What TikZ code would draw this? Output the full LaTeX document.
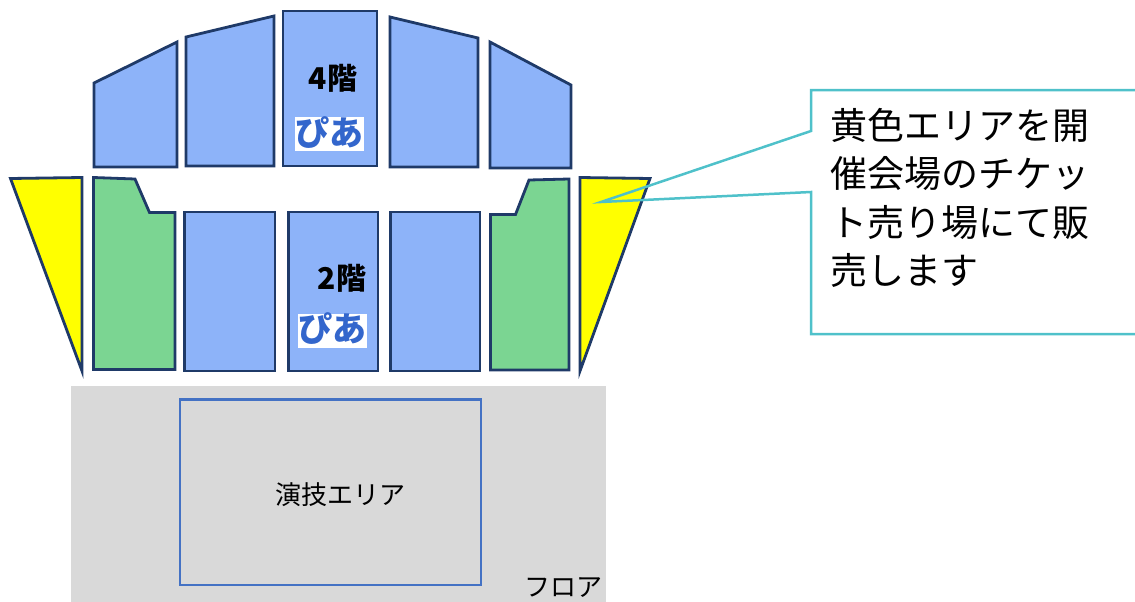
\documentclass[tikz,border=0pt]{standalone}
\usepackage{fontspec}
\setmainfont{Liberation Sans}
\newfontfamily\jp{Noto Sans CJK JP}
\definecolor{seatblue}{HTML}{8DB3F9}
\definecolor{seatgreen}{HTML}{7BD592}
\definecolor{seatyellow}{HTML}{FFFF00}
\definecolor{edge}{HTML}{1F3A68}
\definecolor{floorgrey}{HTML}{D9D9D9}
\definecolor{stageblue}{HTML}{4472C4}
\definecolor{callteal}{HTML}{4FC1CA}
\definecolor{logoblue}{HTML}{3366CC}
\tikzset{
  seat/.style={draw=edge, line width=2.8pt, line join=miter, fill=#1},
  floorlabel/.style={font=\jp\fontsize{30}{34}\selectfont\bfseries, inner sep=0pt},
  logo/.style={fill=white, text=logoblue, inner sep=0pt, font=\jp\bfseries\fontsize{34}{38}\selectfont,
    minimum width=69pt, text height=28pt, text depth=6pt},
  calltext/.style={font=\jp\fontsize{37}{40}\selectfont, anchor=base west, inner sep=0pt},
  plaintext/.style={font=\jp\fontsize{26}{30}\selectfont, inner sep=0pt}
}
\begin{document}
\begin{tikzpicture}[x=1pt,y=-1pt]
\useasboundingbox (0,0) rectangle (1135,602);
% top tier (4F)
\draw[seat=seatblue] (94,83) -- (177,42) -- (177,167) -- (94,167) -- cycle;
\draw[seat=seatblue] (186,37) -- (274,16) -- (274,166) -- (186,166) -- cycle;
\draw[seat=seatblue] (283,11) -- (377,11) -- (377,166) -- (283,166) -- cycle;
\draw[seat=seatblue] (390,17) -- (478,38) -- (478,167) -- (390,167) -- cycle;
\draw[seat=seatblue] (490,42) -- (571,85) -- (571,168) -- (490,168) -- cycle;
% lower tier (2F)
\draw[seat=seatyellow] (10.5,178.5) -- (82,177.5) -- (82,371) -- cycle;
\draw[seat=seatgreen] (93.5,177.5) -- (135,179) -- (149.5,212.5) -- (175,212.5) -- (175,369.5) -- (93.5,369.5) -- cycle;
\draw[seat=seatblue] (184.5,212) -- (275,212) -- (275,371) -- (184.5,371) -- cycle;
\draw[seat=seatblue] (288.5,212) -- (378,212) -- (378,371) -- (288.5,371) -- cycle;
\draw[seat=seatblue] (390.5,212) -- (480,212) -- (480,371) -- (390.5,371) -- cycle;
\draw[seat=seatgreen] (490.5,214.5) -- (515.5,214.5) -- (529,180) -- (569,179) -- (569,370) -- (490.5,370) -- cycle;
\draw[seat=seatyellow] (580,177.5) -- (650,178.5) -- (580,371) -- cycle;
% floor
\fill[floorgrey] (71,386) rectangle (606,602);
\draw[stageblue, line width=2.4pt] (180,399.5) rectangle (481,585);
\node[plaintext] (stage) at (340,495) {演技エリア};
\node[plaintext] (floor) at (563,588) {フロア};
% labels
\node[floorlabel] (f4) at (333,78) {4階};
\node[logo] (p4) at (329,134) {ぴあ};
\node[floorlabel] (f2) at (342,278) {2階};
\node[logo] (p2) at (332.5,330.5) {ぴあ};
% callout
\coordinate (tip) at (601,202);
\draw[callteal, line width=2.5pt, line join=miter]
  (811,131) -- (tip) -- (811,192) -- (811,334) -- (1145,334) -- (1145,90) -- (811,90) -- cycle;
\node[calltext] (c1) at (830,139) {黄色エリアを開};
\node[calltext] (c2) at (830,187.5) {催会場のチケッ};
\node[calltext] (c3) at (830,236) {ト売り場にて販};
\node[calltext] (c4) at (830,284.5) {売します};
\end{tikzpicture}
\end{document}
